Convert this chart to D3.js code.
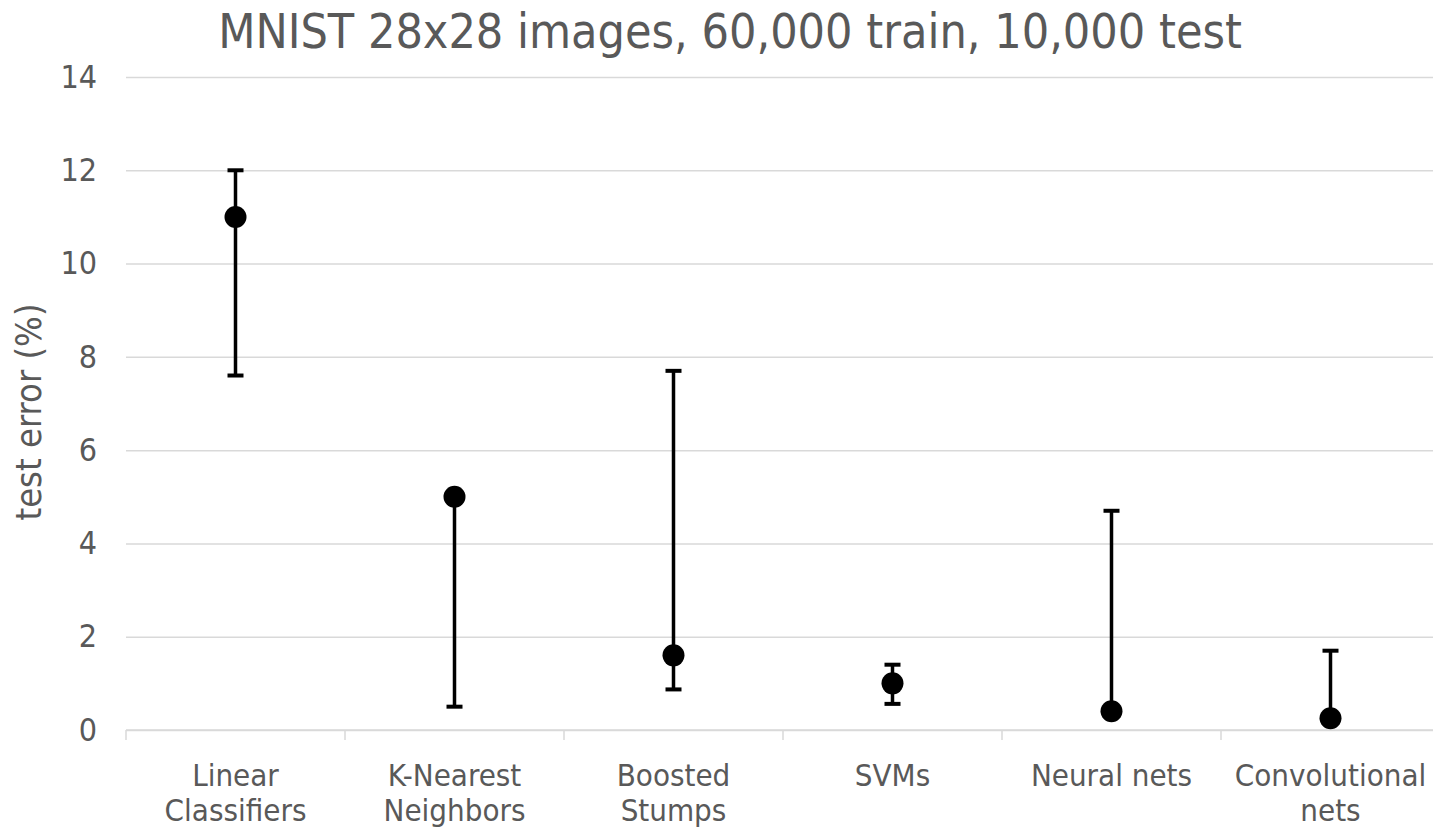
<!DOCTYPE html>
<html lang="en">
<head>
    <meta charset="UTF-8">
    <title>MNIST test error</title>
    <script src="https://cdn.jsdelivr.net/npm/d3@7"></script>
    <style>
        body { margin: 0; background: #fff; }
        text { font-family: "DejaVu Sans Condensed", "DejaVu Sans", sans-serif; font-stretch: condensed; fill: #595959; }
    </style>
</head>
<body>
    <div id="chart"></div>
    <script>
        // categories (two-line labels), point values and error-bar ends
        const categories = ["Linear Classifiers", "K-Nearest Neighbors", "Boosted Stumps", "SVMs", "Neural nets", "Convolutional nets"];
        const labelLines = [["Linear", "Classifiers"], ["K-Nearest", "Neighbors"], ["Boosted", "Stumps"], ["SVMs"], ["Neural nets"], ["Convolutional", "nets"]];
        const values = [11, 5, 1.6, 1.0, 0.4, 0.25];
        const errLow = [7.6, 0.5, 0.87, 0.56, 0.4, 0.25];
        const errHigh = [12, 5, 7.7, 1.4, 4.7, 1.7];
        const yTicks = [0, 2, 4, 6, 8, 10, 12, 14];

        const width = 1433, height = 830;
        const plotLeft = 126, plotRight = 1440, plotTop = 77, plotBottom = 730;

        const svg = d3.select("#chart").append("svg")
            .attr("width", width)
            .attr("height", height);

        const x = d3.scaleBand().domain(categories).range([plotLeft, plotRight]).padding(0);
        const y = d3.scaleLinear().domain([0, 14]).range([plotBottom, plotTop]);

        // gridlines + y labels
        const yAxis = svg.append("g")
            .attr("transform", `translate(${plotLeft},0)`)
            .call(d3.axisLeft(y).tickValues(yTicks).tickSize(-(plotRight - plotLeft)).tickPadding(29));
        yAxis.select(".domain").remove();
        yAxis.selectAll(".tick line").attr("stroke", "#d9d9d9").attr("stroke-width", 1.5);
        yAxis.selectAll(".tick text")
            .style("font-size", "32px")
            .attr("fill", "#595959");

        // bottom axis with ticks at band boundaries
        const bounds = categories.map(c => x(c)).concat([plotRight]);
        svg.append("line")
            .attr("x1", plotLeft).attr("x2", plotRight)
            .attr("y1", plotBottom).attr("y2", plotBottom)
            .attr("stroke", "#d9d9d9").attr("stroke-width", 1.5);
        svg.selectAll(".xtick").data(bounds).enter().append("line")
            .attr("x1", d => d).attr("x2", d => d)
            .attr("y1", plotBottom).attr("y2", plotBottom + 10)
            .attr("stroke", "#d9d9d9").attr("stroke-width", 1.5);

        // category labels
        categories.forEach((c, i) => {
            const t = svg.append("text")
                .attr("x", x(c) + x.bandwidth() / 2)
                .attr("y", 786)
                .attr("text-anchor", "middle")
                .style("font-size", "31px");
            labelLines[i].forEach((line, j) => {
                t.append("tspan")
                    .attr("x", x(c) + x.bandwidth() / 2)
                    .attr("dy", j === 0 ? 0 : 35)
                    .text(line);
            });
        });

        // error bars
        const cx = c => x(c) + x.bandwidth() / 2;
        const capW = 8;
        categories.forEach((c, i) => {
            const g = svg.append("g").attr("stroke", "#000").attr("stroke-width", 3.5);
            g.append("line")
                .attr("x1", cx(c)).attr("x2", cx(c))
                .attr("y1", y(errLow[i])).attr("y2", y(errHigh[i]));
            [errLow[i], errHigh[i]].forEach(v => {
                if (v === values[i]) return;
                g.append("line")
                    .attr("x1", cx(c) - capW).attr("x2", cx(c) + capW)
                    .attr("y1", y(v)).attr("y2", y(v))
                    .attr("stroke-width", 4);
            });
        });

        // points
        svg.selectAll(".pt").data(values).enter().append("circle")
            .attr("cx", (d, i) => cx(categories[i]))
            .attr("cy", d => y(d))
            .attr("r", 11)
            .attr("fill", "#000");

        // y axis title
        svg.append("text")
            .attr("transform", "translate(41,412) rotate(-90)")
            .attr("text-anchor", "middle")
            .style("font-size", "36px")
            .text("test error (%)");

        // chart title
        svg.append("text")
            .attr("x", 730)
            .attr("y", 48)
            .attr("text-anchor", "middle")
            .style("font-size", "48px")
            .text("MNIST 28x28 images, 60,000 train, 10,000 test");
    </script>
</body>
</html>
